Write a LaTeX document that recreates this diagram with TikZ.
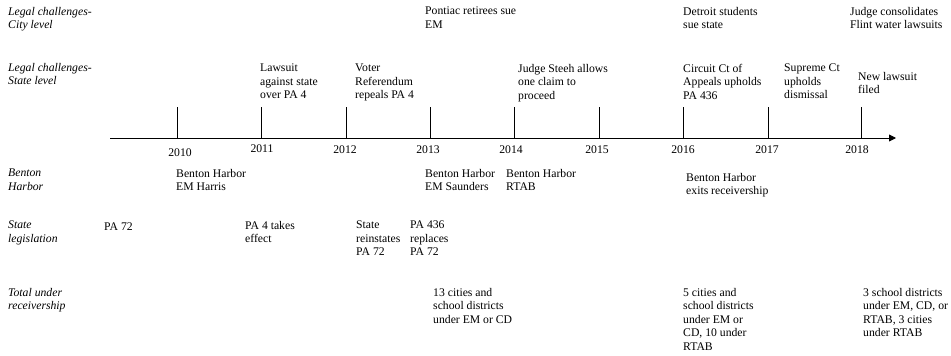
\documentclass[tikz,border=0pt]{standalone}
\usepackage{fontspec}
\setmainfont{Liberation Serif}
\usetikzlibrary{arrows.meta}
\tikzset{
  txt/.style={anchor=north west, inner sep=0pt, align=left, text=black,
    font=\fontsize{11.7}{13.5}\selectfont, execute at begin node=\strut},
  rowlab/.style={txt, font=\fontsize{11.7}{13.5}\selectfont\itshape},
  yr/.style={anchor=center, inner sep=0pt, font=\fontsize{11.7}{13.5}\selectfont},
  tick/.style={line width=0.9pt},
  axis/.style={line width=0.9pt, -{Triangle[length=7pt,width=7pt]}}
}
\begin{document}
\begin{tikzpicture}[x=1pt,y=-1pt]
\useasboundingbox (0,0) rectangle (951,356);
% row labels
\node[rowlab] (lcity) at (8,7) {Legal challenges-\\City level};
\node[rowlab] (lstate) at (8,63) {Legal challenges-\\State level};
\node[rowlab] (lbh) at (8,169) {Benton\\Harbor};
\node[rowlab] (lleg) at (8,221) {State\\legislation};
\node[rowlab] (ltot) at (8,288) {Total under\\receivership};
% axis
\coordinate (axs) at (110,138);
\coordinate (axe) at (896,138);
\draw[axis] (axs) -- (axe);
\foreach \nm/\x in {a/177,b/261,c/346,d/430,e/514,f/599,g/683,h/768,i/861}{
  \coordinate (bot\nm) at (\x,138);
  \coordinate (top\nm) at (\x,107);
  \draw[tick] (bot\nm) -- (top\nm);
}
% years
\node[yr] (y2010) at (180,153) {2010};
\node[yr] (y2011) at (262,149) {2011};
\node[yr] (y2012) at (345,150) {2012};
\node[yr] (y2013) at (428,150) {2013};
\node[yr] (y2014) at (511,150) {2014};
\node[yr] (y2015) at (597,150) {2015};
\node[yr] (y2016) at (683,150) {2016};
\node[yr] (y2017) at (767,150) {2017};
\node[yr] (y2018) at (857,150) {2018};
% city level
\node[txt] (pont) at (425,7) {Pontiac retirees sue\\EM};
\node[txt] (detr) at (683,7) {Detroit students\\sue state};
\node[txt] (flint) at (850,7) {Judge consolidates\\Flint water lawsuits};
% state level
\node[txt] (laws) at (260,64) {Lawsuit\\against state\\over PA 4};
\node[txt] (voter) at (355,64) {Voter\\Referendum\\repeals PA 4};
\node[txt] (steeh) at (518,64) {Judge Steeh allows\\one claim to\\proceed};
\node[txt] (circ) at (683,64) {Circuit Ct of\\Appeals upholds\\PA 436};
\node[txt] (supr) at (784,64) {Supreme Ct\\upholds\\dismissal};
\node[txt] (newl) at (858,72) {New lawsuit\\filed};
% benton harbor
\node[txt] (harris) at (176,169) {Benton Harbor\\EM Harris};
\node[txt] (saund) at (425,169) {Benton Harbor\\EM Saunders};
\node[txt] (rtab) at (506,169) {Benton Harbor\\RTAB};
\node[txt] (exits) at (686,173) {Benton Harbor\\exits receivership};
% legislation
\node[txt] (pa72) at (104,221) {PA 72};
\node[txt] (pa4) at (245,221) {PA 4 takes\\effect};
\node[txt] (rein) at (356,221) {State\\reinstates\\PA 72};
\node[txt] (pa436) at (410,221) {PA 436\\replaces\\PA 72};
% totals
\node[txt] (tot13) at (433,288) {13 cities and\\school districts\\under EM or CD};
\node[txt] (tot5) at (683,288) {5 cities and\\school districts\\under EM or\\CD, 10 under\\RTAB};
\node[txt] (tot3) at (863,288) {3 school districts\\under EM, CD, or\\RTAB, 3 cities\\under RTAB};
\end{tikzpicture}
\end{document}
